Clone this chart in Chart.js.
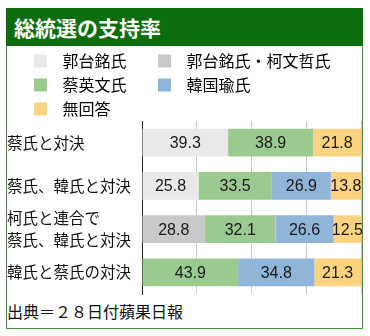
<!DOCTYPE html>
<html><head><meta charset="utf-8">
<script src="https://cdn.jsdelivr.net/npm/chart.js@4/dist/chart.umd.min.js"></script>
<style>
html,body{margin:0;padding:0;background:#fff;width:370px;height:336px;overflow:hidden;}
#frame{position:absolute;left:6px;top:8px;width:357px;height:321px;border:1px solid #4a8f3f;box-sizing:border-box;}
#title{position:absolute;left:6px;top:8px;width:357px;height:38px;background:#0b6d0b;color:#fff;font:bold 21px "Noto Sans CJK JP",sans-serif;line-height:38px;padding-left:8px;box-sizing:border-box;}
#wrap{position:absolute;left:7px;top:47px;width:355px;height:250px;}
#source{position:absolute;left:7px;top:301px;font:16px "Noto Sans CJK JP",sans-serif;line-height:20px;color:#111;}
</style></head>
<body>
<div id="frame"></div>
<div id="title">総統選の支持率</div>
<div id="wrap"><canvas id="c"></canvas></div>
<div id="source">出典＝２８日付蘋果日報</div>
<script>
const categories = ['蔡氏と対決', '蔡氏、韓氏と対決', ['柯氏と連合で', '蔡氏、韓氏と対決'], '韓氏と蔡氏の対決'];
const seriesNames = ['郭台銘氏', '郭台銘氏・柯文哲氏', '蔡英文氏', '韓国瑜氏', '無回答'];
const guo      = [39.3, 25.8, null, null];
const guoKo    = [null, null, 28.8, null];
const tsai     = [38.9, 33.5, 32.1, 43.9];
const han      = [null, 26.9, 26.6, 34.8];
const noAnswer = [21.8, 13.8, 12.5, 21.3];
const xTicks = [0, 25, 50, 75, 100];

const colors = ['#e9e9e9', '#c9c9c9', '#9bca91', '#8fb5d9', '#fdd382'];
const legendPad = ['\u2002\u2002\u2002', '', '\u2002\u2002\u2002', '\u2003\u2003\u2003', ''];

Chart.defaults.font.family = '"Noto Sans CJK JP", sans-serif';
Chart.defaults.color = '#111';

const valueLabels = {
  id: 'valueLabels',
  afterDatasetsDraw(chart) {
    const ctx = chart.ctx;
    ctx.save();
    ctx.font = '16px "Liberation Sans", Arial, sans-serif';
    ctx.fillStyle = '#1a1a1a';
    ctx.textAlign = 'center';
    ctx.textBaseline = 'middle';
    chart.data.datasets.forEach((ds, i) => {
      const meta = chart.getDatasetMeta(i);
      meta.data.forEach((el, j) => {
        const v = ds.data[j];
        if (v == null) return;
        const p = el.getCenterPoint();
        ctx.fillText(v.toFixed(1), p.x, p.y + 1);
      });
    });
    ctx.restore();
  }
};
const legendOffset = {
  id: 'legendOffset',
  afterLayout(chart) { if (chart.legend) chart.legend.left += 19.5; }
};

const seriesData = [guo, guoKo, tsai, han, noAnswer];
new Chart(document.getElementById('c'), {
  type: 'bar',
  data: {
    labels: categories,
    datasets: seriesNames.map((n, i) => ({
      label: n,
      data: seriesData[i],
      backgroundColor: colors[i],
      borderWidth: 0,
      barPercentage: 0.64,
      categoryPercentage: 1
    }))
  },
  options: {
    indexAxis: 'y',
    responsive: true,
    maintainAspectRatio: false,
    animation: false,
    devicePixelRatio: 1,
    layout: { padding: { top: 0, right: 1, bottom: 3, left: 0 } },
    scales: {
      x: {
        stacked: true, min: 0, max: 100,
        afterBuildTicks(scale) { scale.ticks = xTicks.map(v => ({ value: v })); },
        ticks: { display: false, padding: 0 },
        grid: { color: '#c8c8c8', lineWidth: 1, drawTicks: false },
        border: { display: false }
      },
      y: {
        stacked: true,
        afterFit(scale) { scale.paddingTop = 0; scale.paddingBottom = 0; scale.width = 135; },
        grid: { display: false, drawTicks: false },
        border: { display: true, color: '#222', width: 1 },
        ticks: { autoSkip: false, crossAlign: 'far', padding: 4, color: '#111', font: { size: 15.5, lineHeight: 1.4 } }
      }
    },
    plugins: {
      legend: {
        position: 'top', align: 'start', maxHeight: 74,
        labels: {
          boxWidth: 20, boxHeight: 20, padding: 4,
          font: { size: 16 }, color: '#111',
          generateLabels(chart) {
            return chart.data.datasets.map((ds, i) => ({
              text: '\u2005' + ds.label + legendPad[i],
              fillStyle: ds.backgroundColor,
              strokeStyle: '#ffffff',
              lineWidth: 7,
              hidden: false,
              datasetIndex: i
            }));
          }
        }
      },
      tooltip: { enabled: false }
    }
  },
  plugins: [valueLabels, legendOffset]
});
</script>
</body></html>
